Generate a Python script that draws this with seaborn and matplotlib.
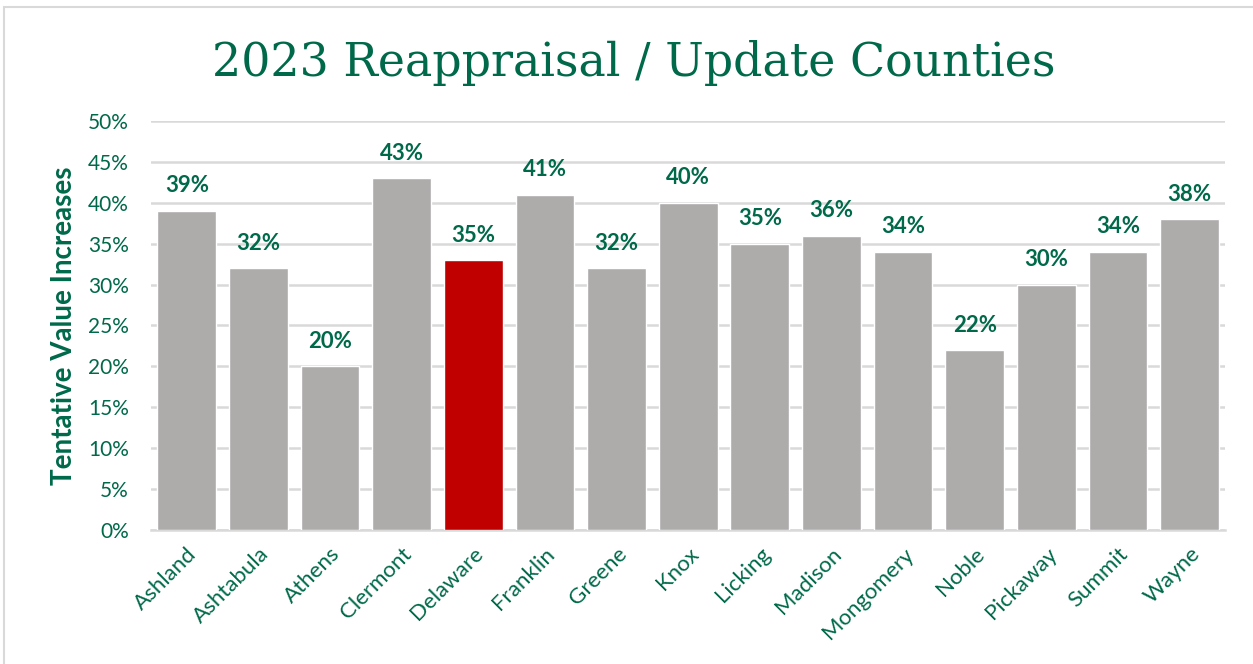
import matplotlib
matplotlib.use('Agg')
import matplotlib.pyplot as plt
import seaborn as sns
import pandas as pd
from matplotlib.ticker import PercentFormatter
from matplotlib.patches import Rectangle

# counties and values
counties = ['Ashland', 'Ashtabula', 'Athens', 'Clermont', 'Delaware', 'Franklin',
            'Greene', 'Knox', 'Licking', 'Madison', 'Mongomery', 'Noble',
            'Pickaway', 'Summit', 'Wayne']
bar_values = [0.39, 0.32, 0.20, 0.43, 0.33, 0.41, 0.32, 0.40, 0.35, 0.36,
              0.34, 0.22, 0.30, 0.34, 0.38]
label_text = ['39%', '32%', '20%', '43%', '35%', '41%', '32%', '40%', '35%', '36%',
              '34%', '22%', '30%', '34%', '38%']
highlight = 'Delaware'

GREEN = '#00694A'
GRAY = '#AEABAB'
RED = '#C00000'

df = pd.DataFrame({'county': counties, 'value': bar_values})
colors = [RED if c == highlight else GRAY for c in counties]

sns.set_style('white')
plt.rcParams['font.family'] = ['Lato', 'DejaVu Sans']

fig = plt.figure(figsize=(12.53, 6.64), dpi=100)
ax = fig.add_axes([0.1205, 0.2018, 0.8575, 0.616])

sns.barplot(data=df, x='county', y='value', hue='county', palette=colors,
            legend=False, width=0.82, ax=ax, zorder=3, saturation=1)

ax.set_ylim(0, 0.5)
ax.set_yticks([i * 0.05 for i in range(11)])
ax.yaxis.set_major_formatter(PercentFormatter(1.0, decimals=0))
ax.grid(axis='y', color='#D9D9D9', linewidth=1.8, zorder=0)
ax.set_axisbelow(True)
ax.set_xlim(-0.5, len(counties) - 0.5)
for s in ['top', 'right', 'left']:
    ax.spines[s].set_visible(False)
ax.spines['bottom'].set_color('#D9D9D9')
ax.spines['bottom'].set_linewidth(1.8)

ax.tick_params(axis='y', length=0, labelsize=15, labelcolor=GREEN, pad=16)
ax.tick_params(axis='x', length=0, labelsize=16, labelcolor=GREEN, pad=10)
plt.setp(ax.get_xticklabels(), rotation=45, ha='right', rotation_mode='anchor')

ax.set_xlabel('')
ax.set_ylabel('Tentative Value Increases', fontsize=20, fontweight='bold',
              color=GREEN, labelpad=8)

for i, (v, t) in enumerate(zip(bar_values, label_text)):
    ax.annotate(t, (i, v), xytext=(0, 18), textcoords='offset points',
                ha='center', va='center', fontsize=16, fontweight='bold', color=GREEN)

fig.text(0.506, 0.886, '2023 Reappraisal / Update Counties', ha='center', va='baseline',
         fontsize=33, color=GREEN, family='DejaVu Serif')

# light frame around the chart area
fig.patches.append(Rectangle((0.003, -0.01), 1.1, 0.9995, transform=fig.transFigure,
                             fill=False, edgecolor='#D9D9D9', linewidth=1.5))

fig.savefig('out.png', dpi=100)
